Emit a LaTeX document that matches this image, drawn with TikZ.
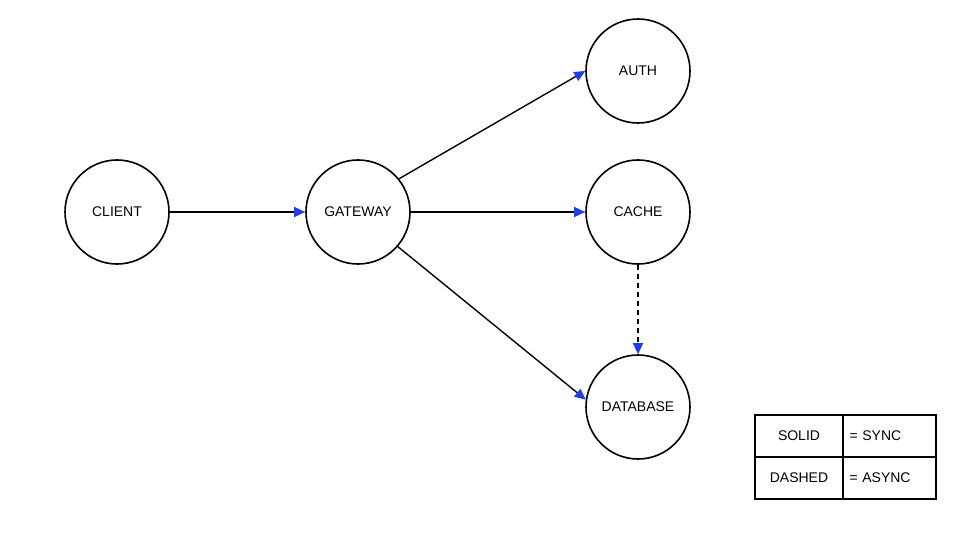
\documentclass[tikz,border=0pt]{standalone}
\usepackage{fontspec}
\setmainfont{Liberation Sans}
\usetikzlibrary{arrows.meta}
\definecolor{arr}{RGB}{30,60,240}
\begin{document}
\begin{tikzpicture}[x=1pt,y=-1pt,
  svc/.style={circle,draw=black,line width=1.6pt,minimum size=104pt,inner sep=0pt,font=\fontsize{14}{16}\selectfont},
  conn/.style={line width=1.4pt,-{Triangle[length=11pt,width=10pt,color=arr,fill=arr]}},
  cell/.style={draw=black,line width=1.4pt,minimum height=42pt,inner sep=0pt,font=\fontsize{14}{16}\selectfont}]
\useasboundingbox[fill=white] (0,0) rectangle (960,540);
\node[svc] (client) at (117,212) {CLIENT};
\node[svc] (gateway) at (358,212) {GATEWAY};
\node[svc] (auth) at (638,71) {AUTH};
\node[svc] (cache) at (638,212) {CACHE};
\node[svc] (db) at (638,407) {DATABASE};
\draw[conn] (client) -- (gateway);
\draw[conn] (gateway.39) -- (auth.west);
\draw[conn] (gateway) -- (cache);
\draw[conn] (gateway.-41) -- (db.172);
\draw[conn,dash pattern=on 5pt off 4pt] (cache) -- (db);
\node[cell,minimum width=88pt] (s) at (799,436) {SOLID};
\node[cell,minimum width=93pt,text width=80pt,align=left] (ss) at (889.5,436) {= SYNC};
\node[cell,minimum width=88pt] (d) at (799,478) {DASHED};
\node[cell,minimum width=93pt,text width=80pt,align=left] (da) at (889.5,478) {= ASYNC};
\end{tikzpicture}
\end{document}
